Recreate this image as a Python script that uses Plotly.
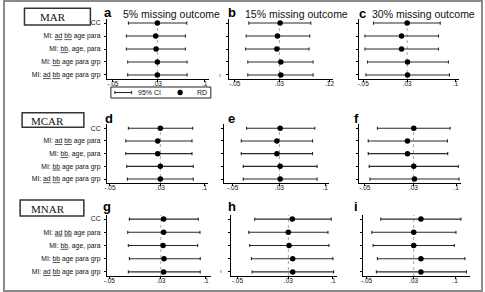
import plotly.graph_objects as go

W, H = 485, 292

# ---------------- data ----------------
categories = [
    "CC",
    "MI: <u>ad</u> <u>bb</u> age para",
    "MI: <u>bb</u>, age, para",
    "MI: <u>bb</u> age para grp",
    "MI: <u>ad</u> <u>bb</u> age para grp",
]
panels = ["a", "b", "c", "d", "e", "f", "g", "h", "i"]

rd_a = [0.030, 0.027, 0.0277, 0.030, 0.030]
lo_a = [-0.0221, -0.0257, -0.0257, -0.0234, -0.0234]
hi_a = [0.0828, 0.0804, 0.0804, 0.0834, 0.0834]

rd_b = [0.0312, 0.0265, 0.0254, 0.0325, 0.0325]
lo_b = [-0.0250, -0.0297, -0.0309, -0.0268, -0.0268]
hi_b = [0.0863, 0.0845, 0.0832, 0.0904, 0.0904]

rd_c = [0.030, 0.0199, 0.0199, 0.0307, 0.0307]
lo_c = [-0.0314, -0.0469, -0.0469, -0.0422, -0.0451]
hi_c = [0.0903, 0.0872, 0.0872, 0.1053, 0.1071]

rd_d = [0.030, 0.0258, 0.0258, 0.030, 0.030]
lo_d = [-0.0207, -0.0249, -0.0249, -0.0234, -0.0223]
hi_d = [0.0813, 0.0802, 0.0802, 0.0823, 0.0823]

rd_e = [0.0312, 0.0256, 0.0256, 0.0312, 0.0312]
lo_e = [-0.0263, -0.0353, -0.0353, -0.0319, -0.0319]
hi_e = [0.0904, 0.0865, 0.0865, 0.0943, 0.0943]

rd_f = [0.0305, 0.0202, 0.0202, 0.0305, 0.0316]
lo_f = [-0.0292, -0.0443, -0.0443, -0.0427, -0.0415]
hi_f = [0.0902, 0.0858, 0.0863, 0.1037, 0.1048]

rd_g = [0.0343, 0.0343, 0.0334, 0.0349, 0.0343]
lo_g = [-0.0189, -0.0215, -0.0205, -0.0189, -0.0205]
hi_g = [0.0882, 0.0908, 0.0872, 0.0912, 0.0912]

rd_h = [0.0362, 0.030, 0.0311, 0.0368, 0.0368]
lo_h = [-0.0229, -0.0322, -0.0307, -0.0280, -0.0269]
hi_h = [0.0975, 0.0922, 0.0938, 0.1000, 0.1011]

rd_i = [0.0422, 0.030, 0.030, 0.0422, 0.0422]
lo_i = [-0.0259, -0.0410, -0.0388, -0.0316, -0.0333]
hi_i = [0.1100, 0.1016, 0.0988, 0.1167, 0.1194]

rd = dict(a=rd_a, b=rd_b, c=rd_c, d=rd_d, e=rd_e, f=rd_f, g=rd_g, h=rd_h, i=rd_i)
lo = dict(a=lo_a, b=lo_b, c=lo_c, d=lo_d, e=lo_e, f=lo_f, g=lo_g, h=lo_h, i=lo_i)
hi = dict(a=hi_a, b=hi_b, c=hi_c, d=hi_d, e=hi_e, f=hi_f, g=hi_g, h=hi_h, i=hi_i)

ref_value = 0.03
tick_vals = dict(
    a=[-0.05, 0.03, 0.115], b=[-0.05, 0.03, 0.12], c=[-0.05, 0.03, 0.118],
    d=[-0.05, 0.03, 0.1], e=[-0.05, 0.03, 0.108], f=[-0.05, 0.03, 0.1],
    g=[-0.05, 0.03, 0.1], h=[-0.05, 0.03, 0.1], i=[-0.05, 0.03, 0.1],
)
tick_text = dict(
    a=["-.05", ".03", ".1"], b=["-.05", ".03", ".12"], c=["-.05", ".03", ".1"],
    d=["-.05", ".03", ".1"], e=["-.05", ".03", ".1"], f=["-.05", ".03", ".1"],
    g=["-.05", ".03", ".1"], h=["-.05", ".03", ".1"], i=["-.05", ".03", ".1"],
)
col_titles = ["5% missing outcome", "15% missing outcome", "30% missing outcome"]
row_labels = ["MAR", "MCAR", "MNAR"]
legend_labels = ["95% CI", "RD"]

# ---------------- layout geometry (pixels) ----------------
x_px = dict(a=(105, 208), b=(228, 333), c=(360, 461),
            d=(105, 207), e=(223, 329), f=(359.5, 463),
            g=(105, 210), h=(230, 337), i=(363.3, 471.7))
x_rng = dict(a=(-0.0607, 0.1225), b=(-0.0611, 0.1254), c=(-0.0572, 0.125),
             d=(-0.0548, 0.1054), e=(-0.0653, 0.114), f=(-0.0598, 0.1085),
             g=(-0.0538, 0.1077), h=(-0.0607, 0.1057), i=(-0.0567, 0.1251))
row_px = [(19, 79), (124.3, 183), (215, 276)]
y_rng = [4.31, -0.31]

FONT = "Liberation Sans, Arial, sans-serif"
SERIF = "Liberation Serif, Times New Roman, serif"


def fx(px):
    return px / W


def fy(py):
    return 1 - py / H


fig = go.Figure()
shapes = []
annotations = []
layout = {}

for k, p in enumerate(panels):
    r, c = divmod(k, 3)
    n = k + 1
    xa = "x" if n == 1 else f"x{n}"
    ya = "y" if n == 1 else f"y{n}"
    ypos = list(range(len(categories)))
    err_plus = [h_ - m for h_, m in zip(hi[p], rd[p])]
    err_minus = [m - l_ for l_, m in zip(lo[p], rd[p])]
    fig.add_trace(go.Scatter(
        x=rd[p], y=ypos, xaxis=xa, yaxis=ya, mode="markers",
        marker=dict(size=5.5, color="#000"),
        error_x=dict(type="data", symmetric=False, array=err_plus,
                     arrayminus=err_minus, color="#2a2a2a", thickness=1.1, width=1.6),
        showlegend=False, hoverinfo="skip",
    ))
    # reference dotted line at 0.03
    shapes.append(dict(type="line", xref=xa, yref=f"{ya} domain", x0=ref_value, x1=ref_value,
                       y0=0, y1=1, line=dict(color="#a8a8a8", width=1, dash="dot"), layer="below"))
    x0, x1 = x_px[p]
    top, bot = row_px[r]
    layout["xaxis" if n == 1 else f"xaxis{n}"] = dict(
        domain=[fx(x0), fx(x1)], range=list(x_rng[p]), anchor=ya,
        tickvals=tick_vals[p], ticktext=tick_text[p], ticks="outside", ticklen=2,
        tickwidth=1, tickcolor="#000", showline=True, linecolor="#000", linewidth=1,
        showgrid=False, zeroline=False, tickfont=dict(size=6.5, family=FONT, color="#111"),
        ticklabelstandoff=-4, fixedrange=True,
    )
    layout["yaxis" if n == 1 else f"yaxis{n}"] = dict(
        domain=[fy(bot), fy(top)], range=y_rng, anchor=xa,
        tickvals=ypos, ticktext=categories, showticklabels=(c == 0),
        ticks="outside", ticklen=2, tickwidth=1, tickcolor="#000",
        showline=True, linecolor="#000", linewidth=1, showgrid=False, zeroline=False,
        tickfont=dict(size=6.8, family=FONT, color="#111"), ticklabelstandoff=2,
        fixedrange=True,
    )

# panel letters
letter_pos = dict(a=(106.5, 13), b=(231, 13), c=(363, 14), d=(107, 118), e=(231, 118.5),
                  f=(357, 118.5), g=(105, 207), h=(231, 207), i=(357, 207))
for p in panels:
    x, y = letter_pos[p]
    annotations.append(dict(text=f"<b>{p}</b>", x=fx(x), y=fy(y), xref="paper", yref="paper",
                            xanchor="center", yanchor="middle", showarrow=False,
                            font=dict(size=13, family=FONT, color="#000")))

# column titles
title_left = [119, 242, 371]
for t, xl in zip(col_titles, title_left):
    annotations.append(dict(text=t, x=fx(xl), y=fy(14), xref="paper", yref="paper",
                            xanchor="left", yanchor="middle", showarrow=False,
                            font=dict(size=10.5, family=FONT, color="#111")))

# mechanism boxes
boxes = [(21.7, 8.3, 88.3, 25, 35), (19.3, 112.7, 81.7, 127.3, 26.7), (17.3, 200, 81.7, 216, 26)]
for lab, (bx0, by0, bx1, by1, tx) in zip(row_labels, boxes):
    shapes.append(dict(type="rect", xref="paper", yref="paper", x0=fx(bx0), x1=fx(bx1),
                       y0=fy(by1), y1=fy(by0), line=dict(color="#333", width=1.5)))
    annotations.append(dict(text=lab, x=fx(tx), y=fy((by0 + by1) / 2 + 0.5), xref="paper",
                            yref="paper", xanchor="left", yanchor="middle", showarrow=False,
                            font=dict(size=11, family=SERIF, color="#111")))

# legend box
ly = 92.5
shapes.append(dict(type="rect", xref="paper", yref="paper", x0=fx(109), x1=fx(210),
                   y0=fy(98), y1=fy(87), line=dict(color="#222", width=1)))
shapes.append(dict(type="line", xref="paper", yref="paper", x0=fx(113), x1=fx(130),
                   y0=fy(ly), y1=fy(ly), line=dict(color="#2a2a2a", width=1.1)))
for cx in (113, 130):
    shapes.append(dict(type="line", xref="paper", yref="paper", x0=fx(cx), x1=fx(cx),
                       y0=fy(ly - 1.6), y1=fy(ly + 1.6), line=dict(color="#2a2a2a", width=1)))
shapes.append(dict(type="circle", xref="paper", yref="paper", x0=fx(176.3), x1=fx(181.7),
                   y0=fy(ly + 2.7), y1=fy(ly - 2.7), fillcolor="#000", line=dict(width=0)))
annotations.append(dict(text=legend_labels[0], x=fx(134), y=fy(ly), xref="paper", yref="paper",
                        xanchor="left", yanchor="middle", showarrow=False,
                        font=dict(size=7, family=FONT, color="#111")))
annotations.append(dict(text=legend_labels[1], x=fx(194), y=fy(ly), xref="paper", yref="paper",
                        xanchor="left", yanchor="middle", showarrow=False,
                        font=dict(size=7, family=FONT, color="#111")))

# small stray marks
for (mx, my) in [(219.5, 75), (220, 271)]:
    annotations.append(dict(text="ı", x=fx(mx), y=fy(my), xref="paper", yref="paper",
                            xanchor="center", yanchor="middle", showarrow=False,
                            font=dict(size=6, family=FONT, color="#333")))

# outer frame
shapes.append(dict(type="rect", xref="paper", yref="paper", x0=fx(1), x1=fx(484),
                   y0=fy(291), y1=fy(1), line=dict(color="#8a8a8a", width=2)))

fig.update_layout(
    width=W, height=H, margin=dict(l=0, r=0, t=0, b=0),
    paper_bgcolor="#fff", plot_bgcolor="#fff",
    shapes=shapes, annotations=annotations, showlegend=False,
    **layout,
)

fig.write_html("out.html")
